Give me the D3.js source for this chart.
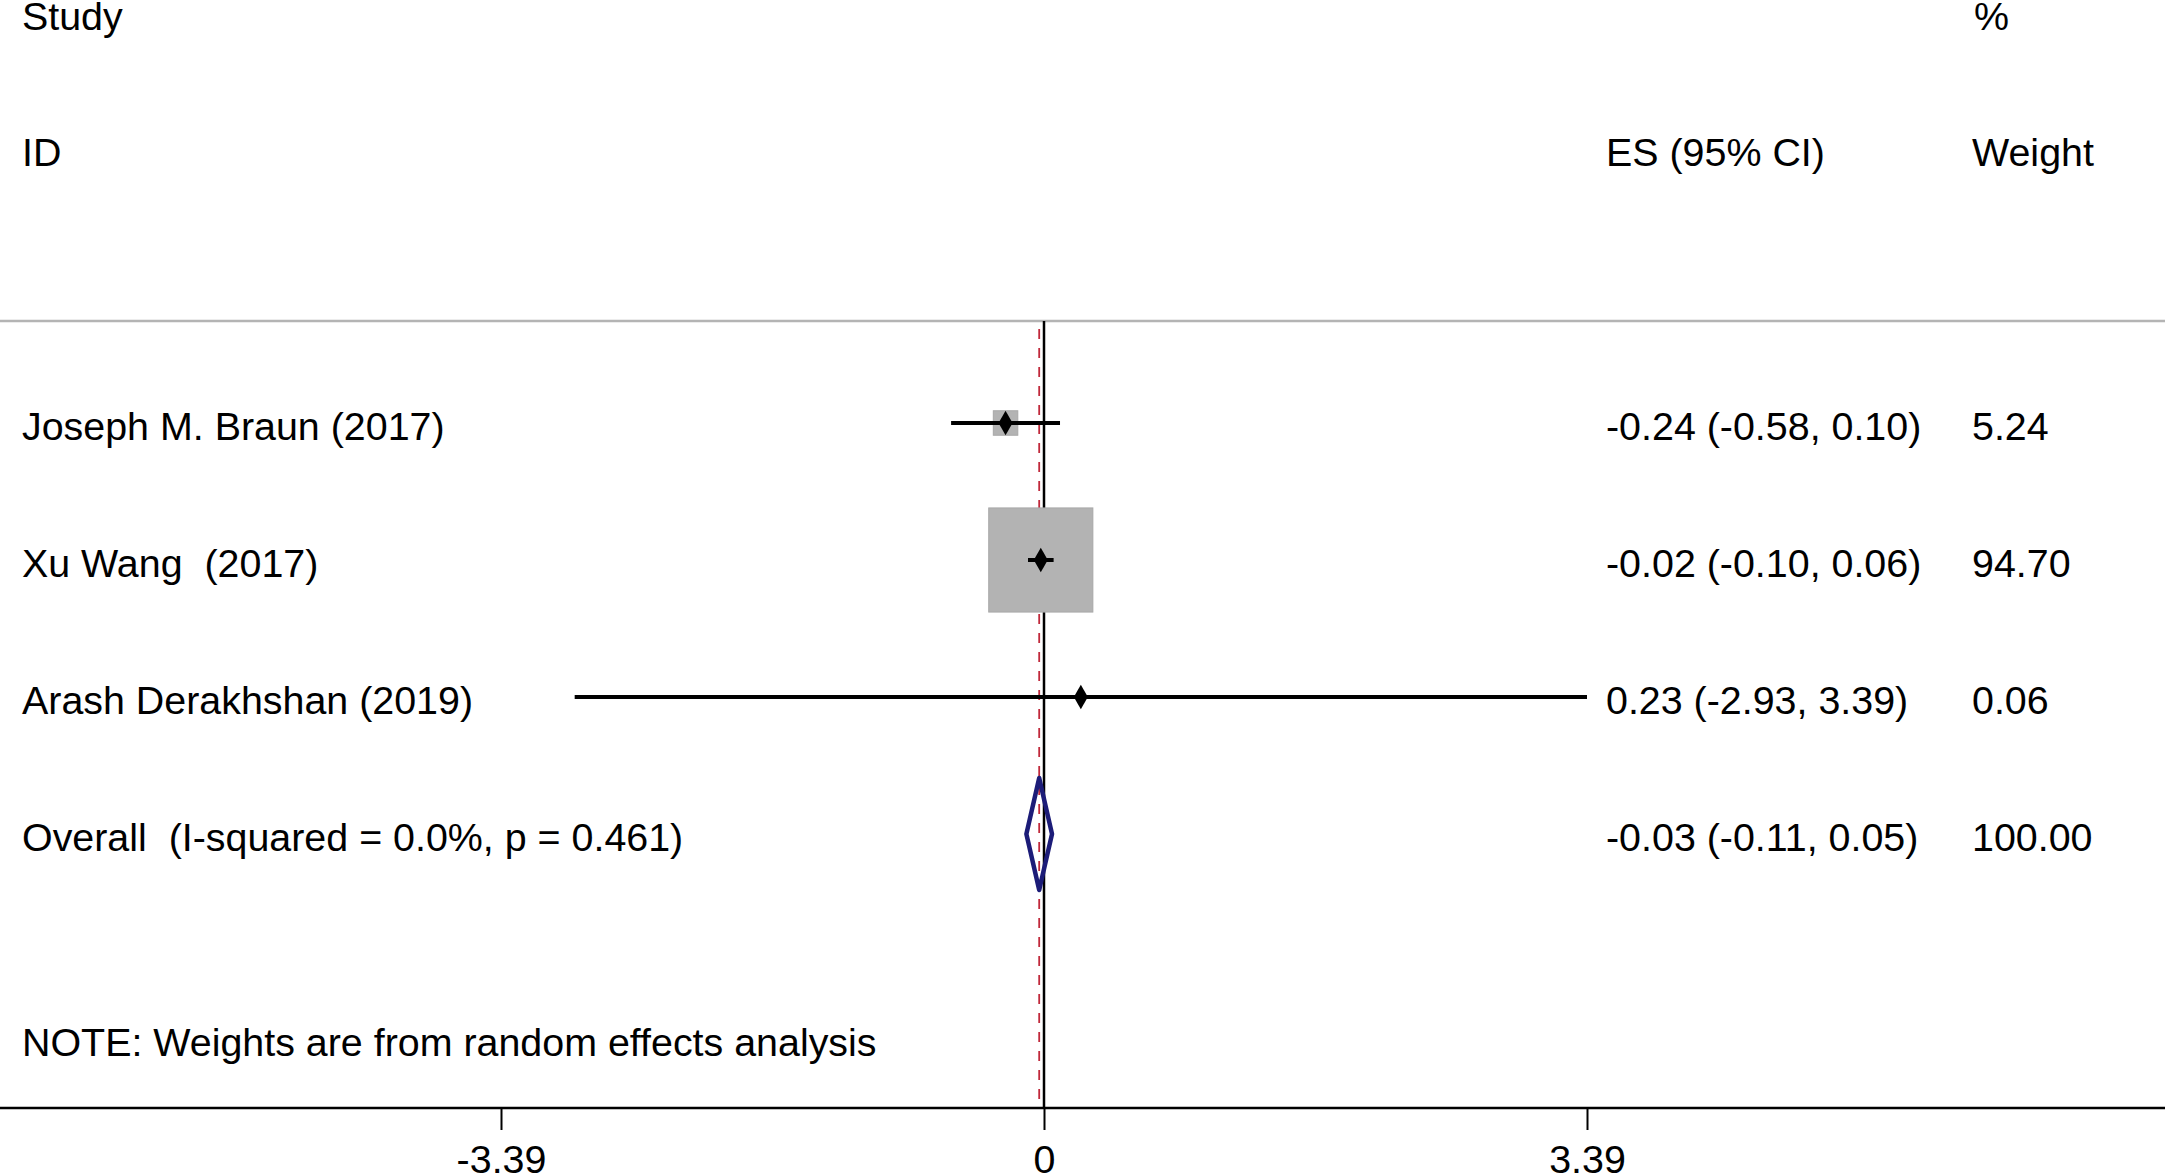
<!DOCTYPE html>
<html>
<head>
<meta charset="utf-8">
<script src="https://cdn.jsdelivr.net/npm/d3@7/dist/d3.min.js"></script>
<style>
  html, body { margin: 0; padding: 0; background: #fff; }
  svg { display: block; }
  text { font-family: "Liberation Sans", Arial, sans-serif; font-size: 39.4px; fill: #000; white-space: pre; }
</style>
</head>
<body>
<svg id="chart" width="2165" height="1175"></svg>
<script>
// ---- data ----
const studies   = ["Joseph M. Braun (2017)", "Xu Wang  (2017)", "Arash Derakhshan (2019)"];
const esValues  = [-0.24, -0.02, 0.23];
const ciLow     = [-0.58, -0.10, -2.93];
const ciHigh    = [0.10, 0.06, 3.39];
const weights   = [5.24, 94.70, 0.06];
const esLabels  = ["-0.24 (-0.58, 0.10)", "-0.02 (-0.10, 0.06)", "0.23 (-2.93, 3.39)"];
const weightLabels = ["5.24", "94.70", "0.06"];
const overallLabel = "Overall  (I-squared = 0.0%, p = 0.461)";
const overallES = -0.03, overallLow = -0.11, overallHigh = 0.05;
const overallESLabel = "-0.03 (-0.11, 0.05)";
const overallWeightLabel = "100.00";
const axisTicks = [-3.39, 0, 3.39];
const axisTickLabels = ["-3.39", "0", "3.39"];
const noteText = "NOTE: Weights are from random effects analysis";

// ---- layout ----
const W = 2165, H = 1175;
const svg = d3.select("#chart");
const x = d3.scaleLinear().domain([-3.39, 3.39]).range([501, 1587]);
const y = d3.scalePoint().domain([0, 1, 2, 3]).range([423, 834]);
const boxSide = d3.scaleSqrt().domain([0, 100]).range([0, 107]);
const topY = 321, axisY = 1108;
const textLeft = 22, esLeft = 1606, wLeft = 1972;
const base = 17;

// header texts
svg.append("text").attr("x", textLeft).attr("y", 30).text("Study");
svg.append("text").attr("x", textLeft).attr("y", 166).text("ID");
svg.append("text").attr("x", esLeft).attr("y", 166).text("ES (95% CI)");
svg.append("text").attr("x", wLeft + 2).attr("y", 30).text("%");
svg.append("text").attr("x", wLeft).attr("y", 166).text("Weight");

// top gray rule
svg.append("line").attr("x1", 0).attr("x2", W).attr("y1", topY).attr("y2", topY)
  .attr("stroke", "#b4b4b4").attr("stroke-width", 2.5);

// no-effect line (x=0)
svg.append("line").attr("x1", x(0)).attr("x2", x(0)).attr("y1", topY).attr("y2", axisY)
  .attr("stroke", "#000").attr("stroke-width", 2.5);

// overall effect dashed line
svg.append("line").attr("x1", x(overallES)).attr("x2", x(overallES)).attr("y1", topY + 8).attr("y2", axisY)
  .attr("stroke", "#c0283a").attr("stroke-width", 1.8).attr("stroke-dasharray", "10,9");

// study rows
const rows = studies.map((s, i) => ({ s, i, es: esValues[i], lo: ciLow[i], hi: ciHigh[i], w: weights[i] }));

// boxes (weights)
svg.selectAll("rect.box").data(rows).join("rect")
  .attr("class", "box")
  .attr("x", d => x(d.es) - boxSide(d.w) / 2)
  .attr("y", d => y(d.i) - boxSide(d.w) / 2)
  .attr("width", d => boxSide(d.w))
  .attr("height", d => boxSide(d.w))
  .attr("fill", "#b3b3b3")
  .attr("stroke", "#a8a8a8").attr("stroke-width", 1);

// CI lines
svg.selectAll("line.ci").data(rows).join("line")
  .attr("class", "ci")
  .attr("x1", d => x(d.lo)).attr("x2", d => x(d.hi))
  .attr("y1", d => y(d.i)).attr("y2", d => y(d.i))
  .attr("stroke", "#000").attr("stroke-width", 4);

// point markers
svg.selectAll("path.pt").data(rows).join("path")
  .attr("class", "pt")
  .attr("transform", d => `translate(${x(d.es)},${y(d.i)})`)
  .attr("d", d3.symbol().type(d3.symbolDiamond).size(170))
  .attr("fill", "#000");

// overall diamond
const oy = y(3), half = 56;
const diamond = [[x(overallLow), oy], [x(overallES), oy - half], [x(overallHigh), oy], [x(overallES), oy + half]];
svg.append("path")
  .attr("d", d3.line()(diamond) + "Z")
  .attr("fill", "none").attr("stroke", "#1c1c78").attr("stroke-width", 4.5)
  .attr("stroke-linejoin", "round");

// left labels
svg.selectAll("text.lab").data(studies.concat([overallLabel])).join("text")
  .attr("class", "lab")
  .attr("x", textLeft).attr("y", (d, i) => y(i) + base)
  .text(d => d);

// ES labels
svg.selectAll("text.es").data(esLabels.concat([overallESLabel])).join("text")
  .attr("class", "es")
  .attr("x", esLeft).attr("y", (d, i) => y(i) + base)
  .text(d => d);

// weight labels
svg.selectAll("text.wt").data(weightLabels.concat([overallWeightLabel])).join("text")
  .attr("class", "wt")
  .attr("x", wLeft).attr("y", (d, i) => y(i) + base)
  .text(d => d);

// note
svg.append("text").attr("x", textLeft).attr("y", 1056).text(noteText);

// axis
svg.append("line").attr("x1", 0).attr("x2", W).attr("y1", axisY).attr("y2", axisY)
  .attr("stroke", "#000").attr("stroke-width", 2.5);
const axis = d3.axisBottom(x).tickValues(axisTicks).tickSize(22).tickPadding(0)
  .tickFormat((d, i) => axisTickLabels[i]);
const g = svg.append("g").attr("transform", `translate(0,${axisY})`).call(axis);
g.select(".domain").remove();
g.selectAll(".tick line").attr("stroke", "#000").attr("stroke-width", 2);
g.selectAll(".tick text")
  .attr("y", 65).attr("dy", null)
  .style("font-family", '"Liberation Sans", Arial, sans-serif')
  .style("font-size", "39.4px").attr("fill", "#000");
</script>
</body>
</html>
